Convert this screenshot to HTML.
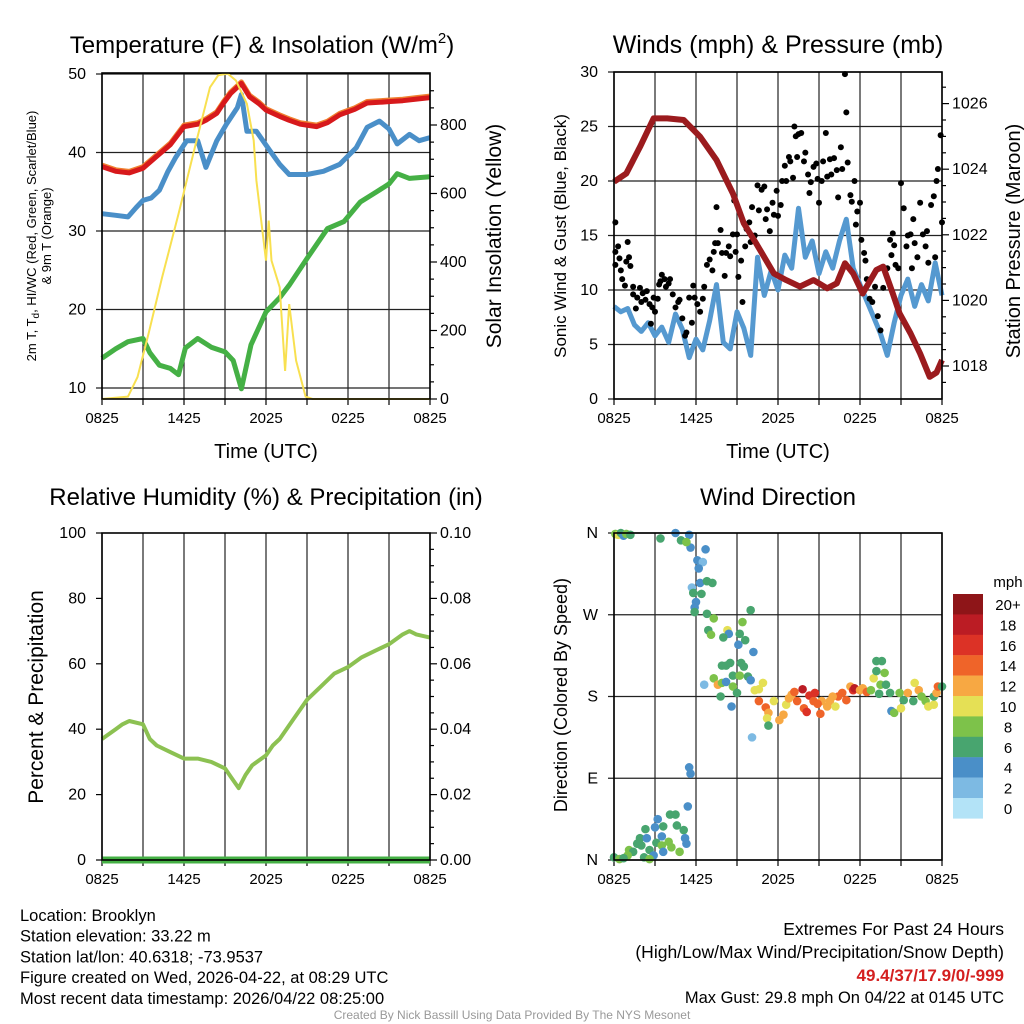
<!DOCTYPE html>
<html><head><meta charset="utf-8"><style>
html,body{margin:0;padding:0;background:#fff;}
svg{display:block;font-family:"Liberation Sans",sans-serif;}
</style></head><body>
<svg id="root" width="1024" height="1024" viewBox="0 0 1024 1024" xmlns="http://www.w3.org/2000/svg"></svg>
<script>
// ---- data ----
const xTickLabels=["0825","1425","2025","0225","0825"];
const tempHours=[0,1,2,3,4,5,6,7,7.6,8.4,8.9,9.4,10.2,10.8,11.5,12,13,13.7,14.5,15.7,16.5,17.4,18.5,19.4,20.3,21.1,22,23,24];
const tempRed=[38.2,37.6,37.4,38.0,39.5,41.0,43.3,43.6,44.1,45.0,46.3,47.5,48.8,47.1,46.2,45.4,44.6,44.1,43.6,43.3,43.8,44.8,45.5,46.3,46.4,46.5,46.6,46.8,47.0];
const blueHours=[0,1,1.9,2.5,3,3.6,4.2,4.8,5.4,6.2,7,7.6,8.4,9.1,9.9,10.2,10.6,11.3,12.3,13,13.7,15,16.2,17.4,18.6,19.4,20.3,21,21.6,22.5,23.2,24];
const tempBlue=[32.2,32.0,31.8,33.0,33.9,34.2,35.2,37.5,39.4,41.5,41.5,38.1,41.5,43.6,45.7,47.4,42.7,42.7,40.2,38.5,37.2,37.2,37.6,38.5,40.6,43.2,44.0,43.0,41.1,42.3,41.5,41.9];
const greenHours=[0,1,1.9,3,3.5,4.2,5,5.6,6.1,7,8,9,9.6,10.2,10.9,12,13,13.7,15,16.5,17.7,18.9,20.1,21,21.6,22.5,24];
const tempGreen=[13.8,15.0,15.9,16.3,14.5,12.9,12.5,11.7,15.1,16.3,15.2,14.6,13.5,9.9,15.5,19.7,21.5,23.1,26.5,30.3,31.2,33.7,35.0,36.0,37.3,36.7,36.9];
const solarHours=[0,1.9,2.6,3.4,4.4,5.6,6.8,7.9,8.5,9.2,9.8,10.6,11.1,11.3,12.0,12.2,12.4,13.0,13.4,13.7,14.2,14.9,15.4,24];
const solar=[0,7,64,190,355,540,735,910,945,950,930,862,755,638,404,521,404,326,82,277,112,7,0,0];
const pressHours=[0,0.9,1.9,2.9,3.9,5.1,6.3,7.5,8.7,9.5,10.4,11.7,12.6,13.6,14.6,15.6,16.3,16.9,17.5,18.2,19.2,19.7,20.4,20.9,21.7,22.4,23.1,23.6,24];
const pressure=[1023.62,1023.87,1024.68,1025.55,1025.55,1025.5,1024.99,1024.28,1023.26,1022.35,1021.74,1020.82,1020.62,1020.42,1020.62,1020.37,1020.52,1021.13,1020.82,1020.21,1020.93,1021.03,1020.21,1019.6,1018.99,1018.38,1017.67,1017.8,1018.18];
const windSpeed=[8.5,8.0,8.3,6.8,6.2,7.0,5.8,6.6,5.2,7.8,6.4,3.8,5.5,4.5,7.2,10.5,5.2,4.6,8.0,6.5,4.0,13.0,9.5,11.8,10.0,13.2,12.0,17.5,13.0,14.5,11.5,13.5,12.0,14.5,16.5,12.0,10.5,9.0,7.5,6.0,4.0,7.0,9.5,11.0,8.5,10.5,9.0,12.5,9.5];
const gustT=[0.1,0.1,0.1,0.3,0.4,0.5,0.6,0.8,0.9,1.0,1.1,1.2,1.4,1.4,1.6,1.7,1.9,2.0,2.1,2.3,2.4,2.6,2.7,2.8,2.9,3.0,3.2,3.3,3.4,3.5,3.7,3.8,4.0,4.1,4.3,4.5,4.7,4.8,5.0,5.2,5.3,5.5,5.7,5.8,5.9,6.1,6.3,6.5,6.6,6.8,7.0,7.2,7.3,7.4,7.5,7.6,7.8,7.9,8.1,8.2,8.4,8.5,8.7,8.8,8.9,9.0,9.1,9.3,9.4,9.6,9.7,9.9,10.0,10.1,10.3,10.5,10.6,10.8,11.0,11.1,11.2,11.4,11.6,11.7,11.9,12.0,12.2,12.3,12.5,12.6,12.8,12.9,13.1,13.2,13.3,13.4,13.5,13.7,13.9,14.0,14.2,14.3,14.4,14.6,14.8,14.9,15.0,15.2,15.3,15.5,15.6,15.8,15.9,16.1,16.3,16.4,16.6,16.7,16.9,17.0,17.1,17.3,17.4,17.6,17.7,17.8,18.0,18.1,18.3,18.4,18.5,18.7,18.9,19.1,19.3,19.5,19.7,20.0,20.2,20.4,20.5,20.6,20.8,21.0,21.2,21.4,21.5,21.7,21.9,22.0,22.2,22.4,22.6,22.8,23.0,23.2,23.4,23.6,23.7,23.9,24.0,23.5,22.9,21.8,20.3];
const gustV=[16.2,13.5,12.3,14.0,12.9,11.8,11.0,10.4,12.6,14.4,13.0,12.2,9.6,10.3,8.3,9.3,10.2,8.9,9.7,9.1,9.9,8.7,6.9,8.4,9.3,8.0,9.2,10.5,10.8,11.4,11.0,10.3,10.6,11.0,9.6,8.4,8.9,9.1,7.4,5.8,6.1,9.3,7.0,10.4,9.3,8.7,8.0,9.2,10.3,12.3,12.8,11.8,13.5,14.3,17.6,14.3,15.5,13.4,11.3,13.4,14.0,13.1,15.1,18.2,13.5,15.1,11.2,12.7,8.9,14.0,15.6,16.2,14.4,17.6,15.0,19.6,17.3,19.2,19.5,16.5,17.4,15.4,18.0,16.9,19.1,16.8,17.8,20.0,21.4,20.0,22.2,21.8,20.3,25.0,24.1,22.2,24.3,24.4,21.8,22.6,20.6,18.9,19.9,21.3,21.6,20.2,18.0,20.0,21.8,24.4,20.4,22.0,20.6,22.1,21.0,18.5,23.1,21.1,29.8,26.3,21.7,18.7,18.1,20.0,16.0,17.2,18.0,14.6,13.4,12.7,11.0,9.2,8.9,10.3,7.6,6.3,10.2,12.0,14.6,15.2,14.1,12.3,12.0,19.8,17.5,14.0,15.0,15.1,16.5,14.3,13.0,18.0,15.1,14.0,12.5,17.8,18.6,20.0,21.1,24.2,16.2,13.0,15.4,12.0,13.2];
const rhHours=[0,1,1.5,2,3,3.5,4,5,6,7,8,9,9.5,10,10.5,11,12,12.5,13,14,15,16,17,18,19,20,21,22,22.5,23,24];
const rh=[37,40,41.5,42.5,41.5,37,35,33,31,31,30,28,25,22,26,29,32,35,37,43,49,53,57,59,62,64,66,69,70,69,68];
const precip=[0,0,0,0,0,0,0,0,0,0,0,0,0,0,0,0,0,0,0,0,0,0,0,0,0];
const dirT=[0.1,0.3,0.5,0.7,0.9,1.2,3.4,4.5,5.5,5.6,4.9,5.3,6.7,6.1,6.5,6.2,6.3,5.7,6.8,7.2,5.8,6.4,6.0,5.9,5.9,6.8,7.3,10.0,9.4,8.3,6.9,7.1,8.4,9.2,8.0,9.6,9.1,10.2,7.9,8.2,8.5,9.3,9.5,8.7,9.2,9.8,7.3,10.0,10.9,6.6,7.6,7.9,8.2,8.7,9.0,10.3,10.6,7.8,8.6,10.1,5.5,5.6,5.4,4.1,4.5,3.2,3.6,3.0,2.3,4.6,5.1,3.5,1.9,2.4,4.0,5.2,5.3,1.7,2.0,3.1,3.5,4.2,4.8,1.1,1.4,1.0,2.6,2.9,3.6,2.2,0,0.4,2.6,0.7,10.6,11.1,11.3,11.2,11.3,11.7,12.1,12.4,12.6,13.0,13.4,13.8,13.9,14.1,14.3,14.6,14.7,15.1,15.2,15.6,15.8,16.2,16.4,16.7,17.0,17.3,17.5,17.6,18.0,18.2,18.5,18.8,19.0,19.2,19.6,19.2,19.8,19.5,19.9,19.4,20.2,20.3,20.5,21.0,20.9,21.2,21.5,22.0,22.3,22.5,22.8,23.0,23.4,23.4,23.6,23.7,24.0,21.9,12.8,14.9,16.0,13.2];
const dirDeg=[359,358,360,357,359,358,354,360,358,344,352,350,342,330,328,321,305,300,307,305,294,293,284,278,273,271,266,275,262,253,253,248,249,249,245,242,237,229,214,214,217,217,213,203,203,202,200,198,195,193,193,195,196,191,184,187,188,180,169,135,102,95,59,50,50,45,37,36,34,38,33,26,24,24,20,24,18,18,16,19,16,14,9,11,9,5,11,5,9,3,3,1,1,2,175,168,162,156,148,175,154,160,171,182,175,188,167,163,181,175,184,161,175,169,175,169,180,184,176,191,187,189,187,189,185,187,200,208,219,219,206,193,193,183,184,164,162,167,184,176,184,195,187,180,175,169,171,180,184,191,191,175,178,172,180,185];
const dirSpeed=[8,10,6,4,8,6,6,4,4,4,6,8,4,4,2,4,4,2,6,6,6,6,4,4,6,6,8,6,8,10,6,8,4,6,6,6,4,4,6,6,6,6,6,6,8,6,8,4,10,2,12,8,4,8,6,10,10,6,4,2,4,4,4,6,6,4,6,4,6,6,6,4,6,4,8,4,4,6,6,6,8,8,8,8,6,8,6,4,4,6,6,8,8,6,14,14,12,10,6,10,12,12,10,12,14,18,14,16,16,14,16,14,12,12,12,10,14,14,14,12,16,18,12,12,14,8,10,6,6,6,8,8,6,6,6,4,8,10,8,6,12,10,12,8,8,10,10,6,12,14,6,6,12,14,12,14];
const legendLabels=["20+","18","16","14","12","10","8","6","4","2","0"];
const legendColors=["#8e1518","#bb1c24","#dc3226","#ef6429","#f7a843","#e5e055","#7dc24a","#48a56f","#4a8fc8","#7dbae3","#b3e3f7"];

// ---- helpers ----
const NS="http://www.w3.org/2000/svg";
const root=document.getElementById('root');
const TK=16;
function mk(tag,attrs,parent){const e=document.createElementNS(NS,tag);for(const k in attrs)e.setAttribute(k,attrs[k]);(parent||root).appendChild(e);return e;}
function txt(s,x,y,size,anchor,parent,extra){const e=mk('text',Object.assign({x:x,y:y,'font-size':size,'text-anchor':anchor||'middle',fill:'#000'},extra||{}),parent);e.textContent=s;return e;}
function xScale(x0){return t=>x0+t*(328/24);}
function pathD(xs,ys,fx,fy){return xs.map((t,i)=>(i?'L':'M')+fx(t).toFixed(1)+','+fy(ys[i]).toFixed(1)).join('');}
function halfHours(n){const a=[];for(let i=0;i<n;i++)a.push(i*0.5);return a;}

function panelFrame(g,x0,top,bottom){
  const xs=xScale(x0);
  for(let h=0;h<=24;h+=3){
    const v=mk('line',{x1:xs(h),x2:xs(h),y1:top,y2:bottom,stroke:'#222','stroke-width':1.2},g);
    
    
    const tk=mk('line',{x1:xs(h),x2:xs(h),y1:bottom,y2:bottom+6,stroke:'#000','stroke-width':1.2},g);
    
    
  }
  xTickLabels.forEach((l,i)=>{
    const t=txt(l,xs(i*6),bottom+24,15,'middle',g);
    
    
  });
}
function border(g,x0,top,bottom){
  const r=mk('rect',{x:x0,y:top,width:328,height:bottom-top,fill:'none',stroke:'#000','stroke-width':1.6},g);
  
  
}
function hgrid(g,x0,y,label,labelX,anchor){
  const l=mk('line',{x1:x0-6,x2:x0+328,y1:y,y2:y,stroke:'#222','stroke-width':1.2},g);
  
  
  const t=txt(label,labelX,y+5,TK,anchor,g);
  
  
}
function rtick(g,x1,y,label,len){
  const l=mk('line',{x1:x1,x2:x1+(len||6),y1:y,y2:y,stroke:'#000','stroke-width':1.2},g);
  
  
  if(label!==null){const t=txt(label,x1+10,y+5,TK,'start',g);
  
  }
}
function rotText(s,x,y,size,g){const t=txt(s,x,y,size,'middle',g,{transform:'rotate(-90 '+x+' '+y+')'});return t;}

// ---- Panel 1: temperature ----
const g1=mk('g',{});


{
  const x0=102,top=73,bottom=399,xs=xScale(x0);
  const yT=v=>388-(v-10)*7.85, yS=w=>399-w*0.3425;
  const t1=txt('Temperature (F) & Insolation (W/m',262,53,24,'middle',g1);
  const sup=mk('tspan',{dy:-10,'font-size':15},t1);sup.textContent='2';
  const cl=mk('tspan',{dy:10},t1);cl.textContent=')';
  
  
  panelFrame(g1,x0,top,bottom);
  [10,20,30,40,50].forEach(v=>hgrid(g1,x0,yT(v),String(v),86,'end'));
  for(let w=0;w<=900;w+=50){rtick(g1,430,yS(w),w%200===0?String(w):null,w%200===0?7:4);}
  const a=rotText('',36,236,13,g1);
  const s1=mk('tspan',{},a);s1.textContent='2m T, T';
  const s2=mk('tspan',{dy:3,'font-size':10},a);s2.textContent='d';
  const s3=mk('tspan',{dy:-3},a);s3.textContent=', HI/WC (Red, Green, Scarlet/Blue)';
  
  
  const b=rotText('& 9m T (Orange)',51,236,13,g1);
  
  
  const c=rotText('Solar Insolation (Yellow)',501,236,21,g1);
  
  
  const d=txt('Time (UTC)',266,458,20,'middle',g1);
  
  
  const pG=mk('path',{d:pathD(greenHours,tempGreen,xs,yT),fill:'none',stroke:'#45b045','stroke-width':5,'stroke-linejoin':'round'},g1);
  
  
  const pB=mk('path',{d:pathD(blueHours,tempBlue,xs,yT),fill:'none',stroke:'#4a8fc8','stroke-width':5,'stroke-linejoin':'round'},g1);
  
  
  const pO=mk('path',{d:pathD(tempHours,tempRed,xs,v=>yT(v)-1.5),fill:'none',stroke:'#f08030','stroke-width':5,'stroke-linejoin':'round'},g1);
  
  
  const pR=mk('path',{d:pathD(tempHours,tempRed,xs,yT),fill:'none',stroke:'#d7191c','stroke-width':5,'stroke-linejoin':'round'},g1);
  
  
  const pY=mk('path',{d:pathD(solarHours,solar,xs,yS),fill:'none',stroke:'#f8e050','stroke-width':2},g1);
  
  
  border(g1,x0,top,bottom);
}

// ---- Panel 2: wind & pressure ----
const g2=mk('g',{});


{
  const x0=614,top=72,bottom=399,xs=xScale(x0);
  const yW=v=>399-v*10.9, yP=p=>366-(p-1018)*32.8;
  const t=txt('Winds (mph) & Pressure (mb)',778,53,25,'middle',g2);
  
  
  panelFrame(g2,x0,top,bottom);
  [0,5,10,15,20,25,30].forEach(v=>hgrid(g2,x0,yW(v),String(v),598,'end'));
  for(let p=1017.5;p<=1026.9;p+=0.5){const maj=Math.abs(p%2)<0.01;rtick(g2,942,yP(p),maj?String(p):null,maj?7:4);}
  const a=rotText('Sonic Wind & Gust (Blue, Black)',566,236,17,g2);
  
  
  const b=rotText('Station Pressure (Maroon)',1020,241,20,g2);
  
  
  const d=txt('Time (UTC)',778,458,20,'middle',g2);
  
  
  const pW=mk('path',{d:pathD(halfHours(windSpeed.length),windSpeed,xs,yW),fill:'none',stroke:'#5599d0','stroke-width':5,'stroke-linejoin':'round'},g2);
  
  
  gustT.forEach((tt,i)=>{
    const c=mk('circle',{cx:xs(tt),cy:yW(gustV[i]),r:3,fill:'#000'},g2);
    
    
  });
  const pP=mk('path',{d:pathD(pressHours,pressure,xs,yP),fill:'none',stroke:'#9b1b1e','stroke-width':6,'stroke-linejoin':'round'},g2);
  
  
  border(g2,x0,top,bottom);
}

// ---- Panel 3: RH & precip ----
const g3=mk('g',{});


{
  const x0=102,top=533,bottom=860,xs=xScale(x0);
  const yH=v=>860-v*3.27, yR=p=>860-p*3270;
  const t=txt('Relative Humidity (%) & Precipitation (in)',266,505,24,'middle',g3);
  
  
  panelFrame(g3,x0,top,bottom);
  [0,20,40,60,80,100].forEach(v=>{const tk=mk('line',{x1:x0-6,x2:x0,y1:yH(v),y2:yH(v),stroke:'#000','stroke-width':1.2},g3);
    
    
    const l=txt(String(v),86,yH(v)+5,TK,'end',g3);
    
    });
  for(let i=0;i<=20;i++){const p=i*0.005;rtick(g3,430,yR(p),i%4===0?p.toFixed(2):null,i%4===0?7:4);}
  const a=rotText('Percent & Precipitation',43,697,21,g3);
  
  
  const pr=mk('path',{d:pathD(halfHours(precip.length).map(h=>h*2),precip,xs,yR),fill:'none',stroke:'#45b045','stroke-width':7},g3);
  
  
  const ph=mk('path',{d:pathD(rhHours,rh,xs,yH),fill:'none',stroke:'#8cc152','stroke-width':4,'stroke-linejoin':'round'},g3);
  
  
  border(g3,x0,top,bottom);
}

// ---- Panel 4: wind direction ----
const g4=mk('g',{});


{
  const x0=614,top=533,bottom=860,xs=xScale(x0);
  const yD=d=>860-d*0.9083;
  const t=txt('Wind Direction',778,505,24,'middle',g4);
  
  
  panelFrame(g4,x0,top,bottom);
  ['N','E','S','W','N'].forEach((l,i)=>hgrid(g4,x0,yD(i*90),l,598,'end'));
  const a=rotText('Direction (Colored By Speed)',567,695,18,g4);
  
  
  dirT.forEach((tt,i)=>{
    const idx=Math.min(10,Math.floor(dirSpeed[i]/2));
    const c=mk('circle',{cx:xs(tt),cy:yD(dirDeg[i]),r:4.3,fill:legendColors[10-idx]},g4);
    
    
  });
  border(g4,x0,top,bottom);
  const lg=mk('g',{},g4);
  
  
  const u=txt('mph',1008,587,15,'middle',lg);
  
  
  legendLabels.forEach((l,i)=>{
    const r=mk('rect',{x:953,y:594+i*20.4,width:30,height:20.6,fill:legendColors[i]},lg);
    
    
    const tl=txt(l,1008,610+i*20.4,15,'middle',lg);
    
    
  });
}

// ---- footer text ----
const info=["Location: Brooklyn","Station elevation: 33.22 m","Station lat/lon: 40.6318; -73.9537","Figure created on Wed, 2026-04-22, at 08:29 UTC","Most recent data timestamp: 2026/04/22 08:25:00"];
info.forEach((s,i)=>{const t=txt(s,20,921+i*20.7,16.5,'start');
  
  });
const r1=txt('Extremes For Past 24 Hours',1004,935,17.5,'end');


const r2=txt('(High/Low/Max Wind/Precipitation/Snow Depth)',1004,958,17.5,'end');


const r3=txt('49.4/37/17.9/0/-999',1004,981,17,'end',null,{fill:'#d42020','font-weight':'bold'});


const r4=txt('Max Gust: 29.8 mph On 04/22 at 0145 UTC',1004,1003,16.5,'end');


const cr=txt('Created By Nick Bassill Using Data Provided By The NYS Mesonet',512,1019,12,'middle',null,{fill:'#999'});


</script>
</body></html>
